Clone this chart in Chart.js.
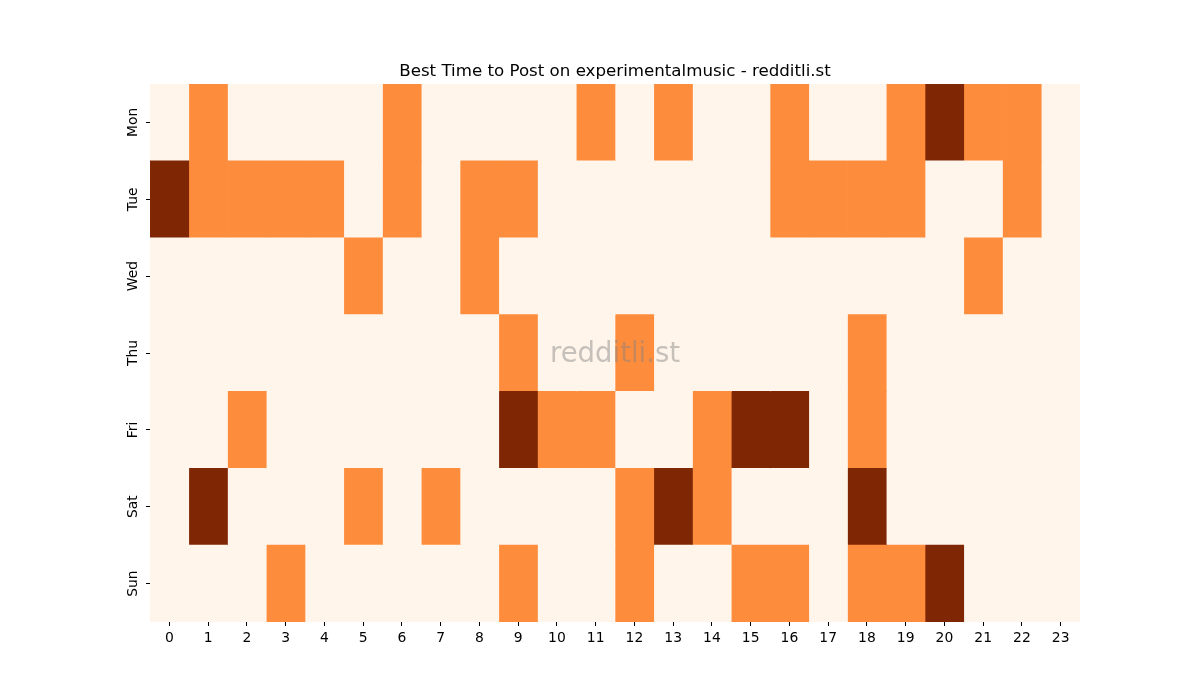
<!DOCTYPE html>
<html>
<head>
<meta charset="utf-8">
<script src="https://cdn.jsdelivr.net/npm/chart.js@4.4.1/dist/chart.umd.min.js"></script>
<style>
html,body{margin:0;padding:0;background:#fff;}
#wrap{width:1200px;height:700px;}
</style>
</head>
<body>
<div id="wrap"><canvas id="c" width="1200" height="700"></canvas></div>
<script>
const days = ["Mon","Tue","Wed","Thu","Fri","Sat","Sun"];
const hours = ["0","1","2","3","4","5","6","7","8","9","10","11","12","13","14","15","16","17","18","19","20","21","22","23"];
// level per hour (0 = low, 1 = medium, 2 = high)
const mon = [0,1,0,0,0,0,1,0,0,0,0,1,0,1,0,0,1,0,0,1,2,1,1,0];
const tue = [2,1,1,1,1,0,1,0,1,1,0,0,0,0,0,0,1,1,1,1,0,0,1,0];
const wed = [0,0,0,0,0,1,0,0,1,0,0,0,0,0,0,0,0,0,0,0,0,1,0,0];
const thu = [0,0,0,0,0,0,0,0,0,1,0,0,1,0,0,0,0,0,1,0,0,0,0,0];
const fri = [0,0,1,0,0,0,0,0,0,2,1,1,0,0,1,2,2,0,1,0,0,0,0,0];
const sat = [0,2,0,0,0,1,0,1,0,0,0,0,1,2,1,0,0,0,2,0,0,0,0,0];
const sun = [0,0,0,1,0,0,0,0,0,1,0,0,1,0,0,1,1,0,1,1,2,0,0,0];
const levels = [mon, tue, wed, thu, fri, sat, sun];
const palette = ["#fff5eb", "#fd8d3c", "#7f2704"];

const datasets = hours.map((h, hi) => ({
  label: h,
  data: days.map(() => [hi, hi + 1]),
  backgroundColor: days.map((d, di) => palette[levels[di][hi]]),
  borderWidth: 0,
  borderSkipped: false,
  barPercentage: 1.0,
  categoryPercentage: 1.0,
  grouped: false
}));

const watermark = {
  id: 'watermark',
  afterLayout(chart) {
    const t = chart.titleBlock;
    if (t) {
      t.left = chart.chartArea.left;
      t.right = chart.chartArea.right;
      t.width = t.right - t.left;
    }
  },
  afterDatasetsDraw(chart) {
    const {ctx, chartArea} = chart;
    ctx.save();
    ctx.font = '27.5px "DejaVu Sans"';
    ctx.fillStyle = 'rgba(128,128,128,0.45)';
    ctx.textAlign = 'center';
    ctx.textBaseline = 'middle';
    ctx.fillText('redditli.st', (chartArea.left + chartArea.right) / 2, (chartArea.top + chartArea.bottom) / 2 + 2);
    ctx.restore();
  }
};

new Chart(document.getElementById('c'), {
  type: 'bar',
  data: { labels: days, datasets },
  plugins: [watermark],
  options: {
    indexAxis: 'y',
    responsive: false,
    animation: false,
    devicePixelRatio: 1,
    layout: { padding: { left: 0, right: 120, top: 50, bottom: 0 } },
    plugins: {
      legend: { display: false },
      tooltip: { enabled: false },
      title: {
        display: true,
        text: 'Best Time to Post on experimentalmusic - redditli.st',
        color: '#000',
        font: { family: 'DejaVu Sans', size: 16.67, weight: 'normal', lineHeight: 1.2 },
        padding: { top: 12, bottom: 2 }
      }
    },
    scales: {
      x: {
        type: 'linear',
        min: 0,
        max: 24,
        afterBuildTicks(scale) {
          scale.ticks = hours.map((h, i) => ({ value: i + 0.5 }));
        },
        afterFit(scale) { scale.height = 78; },
        ticks: {
          color: '#000',
          font: { family: 'DejaVu Sans', size: 13.9 },
          padding: 4,
          maxRotation: 0,
          minRotation: 0,
          autoSkip: false,
          callback(v) { return hours[Math.floor(v)]; }
        },
        grid: { display: true, drawOnChartArea: false, drawTicks: true, tickLength: 4, color: '#000', lineWidth: 1 },
        border: { display: false }
      },
      y: {
        type: 'category',
        afterFit(scale) { scale.width = 150; },
        ticks: {
          color: '#000',
          font: { family: 'DejaVu Sans', size: 13.9 },
          padding: -3,
          minRotation: 90,
          maxRotation: 90,
          crossAlign: 'center',
          autoSkip: false
        },
        grid: { display: true, drawOnChartArea: false, drawTicks: true, tickLength: 4, color: '#000', lineWidth: 1, offset: false },
        border: { display: false }
      }
    }
  }
});
</script>
</body>
</html>
